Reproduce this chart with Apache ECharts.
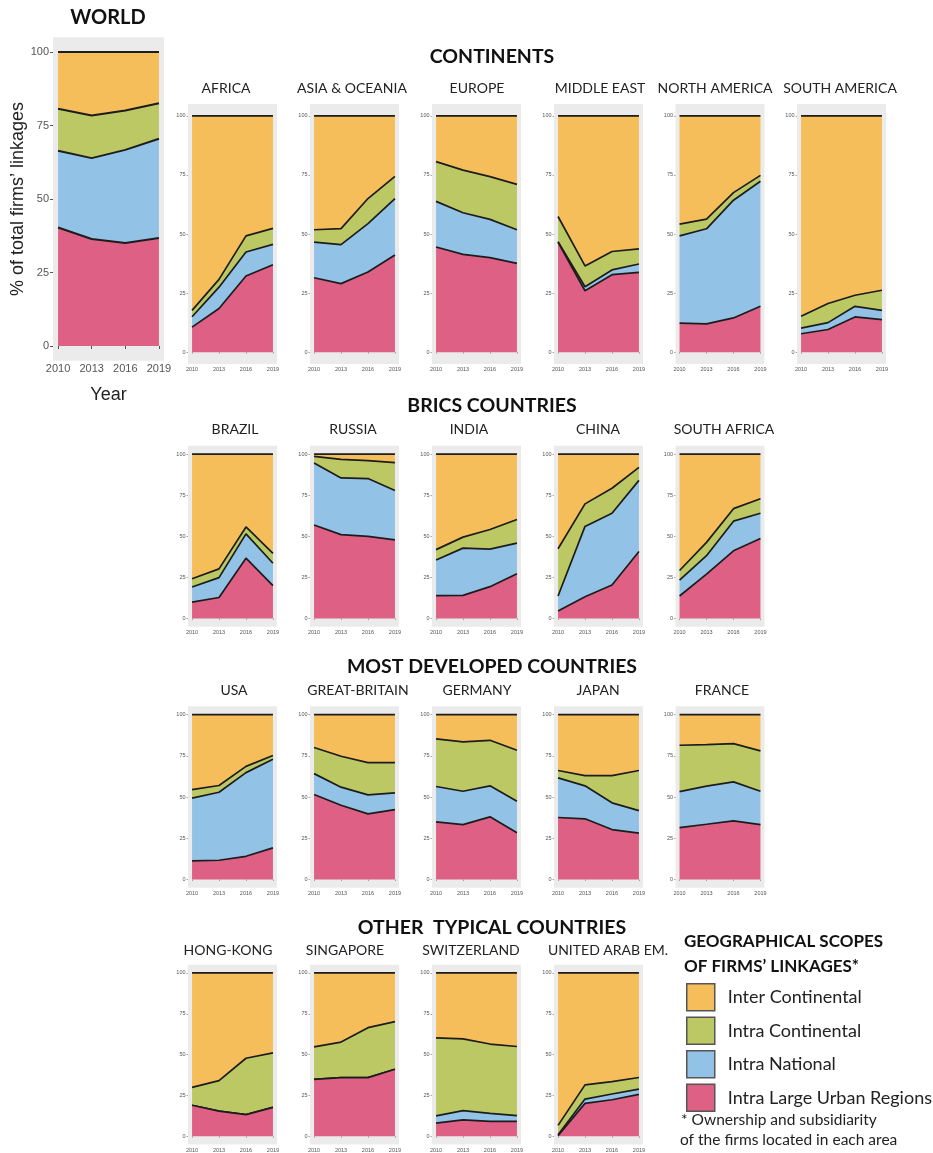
<!DOCTYPE html>
<html>
<head>
<meta charset="utf-8">
<script src="https://cdn.jsdelivr.net/npm/echarts@6/dist/echarts.min.js"></script>
<style>
  html, body { margin: 0; padding: 0; background: #ffffff; }
  #chart { width: 933px; height: 1153px; }
</style>
</head>
<body>
<div id="chart"></div>
<script>
// ---- Data: share (%) of firms' linkages by geographical scope ----
const years = [2010, 2013, 2016, 2019];

const regions = [
  'WORLD',
  'AFRICA', 'ASIA & OCEANIA', 'EUROPE', 'MIDDLE EAST', 'NORTH AMERICA', 'SOUTH AMERICA',
  'BRAZIL', 'RUSSIA', 'INDIA', 'CHINA', 'SOUTH AFRICA',
  'USA', 'GREAT-BRITAIN', 'GERMANY', 'JAPAN', 'FRANCE',
  'HONG-KONG', 'SINGAPORE', 'SWITZERLAND', 'UNITED ARAB EM.'
];

const scopeNames = ['Intra Large Urban Regions', 'Intra National', 'Intra Continental', 'Inter Continental'];

// one row per region, one value per year
const intraUrban = [
  [40.3, 36.4, 35.0, 36.7],
  [10.6, 18.5, 32.2, 37.0],
  [31.5, 29.0, 33.9, 41.1],
  [44.5, 41.4, 40.0, 37.6],
  [46.5, 26.0, 32.8, 33.8],
  [12.3, 12.0, 14.5, 19.4],
  [7.8, 9.6, 14.9, 13.8],
  [10.0, 12.8, 36.7, 20.0],
  [56.9, 51.0, 50.0, 47.8],
  [14.0, 14.1, 19.4, 27.3],
  [4.6, 13.3, 20.4, 40.8],
  [13.7, 27.0, 41.2, 48.7],
  [11.3, 11.7, 14.1, 19.2],
  [51.5, 45.0, 39.8, 42.4],
  [34.9, 33.3, 38.0, 28.3],
  [37.6, 36.8, 30.3, 28.1],
  [31.5, 33.5, 35.6, 33.3],
  [19.0, 15.4, 13.3, 17.7],
  [34.9, 35.9, 35.9, 41.1],
  [8.1, 10.1, 9.1, 9.1],
  [0.4, 20.2, 22.4, 25.7]
];

const intraNational = [
  [26.1, 27.5, 31.7, 33.8],
  [4.4, 9.0, 10.2, 8.6],
  [15.1, 16.5, 20.5, 23.9],
  [19.3, 17.6, 16.2, 14.2],
  [0.3, 1.7, 2.0, 3.5],
  [36.9, 40.2, 49.8, 52.9],
  [2.4, 2.9, 4.5, 3.9],
  [9.2, 12.1, 14.8, 13.6],
  [37.7, 34.5, 35.1, 30.0],
  [21.6, 28.7, 22.8, 18.6],
  [9.1, 42.7, 43.6, 43.2],
  [9.6, 11.2, 18.0, 15.3],
  [38.0, 41.2, 50.7, 53.7],
  [12.7, 11.0, 11.5, 10.1],
  [21.5, 20.2, 18.8, 19.2],
  [24.0, 20.0, 16.2, 13.7],
  [21.8, 23.1, 23.6, 20.2],
  [0, 0, 0, 0],
  [0, 0, 0, 0],
  [4.4, 5.6, 5.0, 3.6],
  [0.6, 2.6, 3.5, 3.2]
];

const intraContinental = [
  [14.3, 14.5, 13.4, 12.1],
  [2.7, 3.3, 6.8, 6.8],
  [5.2, 6.8, 10.6, 9.4],
  [16.8, 18.0, 18.1, 19.2],
  [10.6, 8.8, 7.8, 6.4],
  [5.0, 4.1, 3.2, 2.5],
  [5.0, 8.1, 4.7, 8.5],
  [5.0, 5.3, 4.2, 6.0],
  [4.0, 11.3, 10.9, 17.0],
  [6.3, 6.7, 11.9, 14.3],
  [28.7, 13.7, 15.2, 7.9],
  [5.9, 8.1, 7.6, 8.8],
  [5.2, 4.1, 3.8, 2.3],
  [15.8, 18.7, 19.6, 18.4],
  [28.9, 29.9, 27.6, 30.9],
  [4.5, 6.2, 16.5, 24.3],
  [28.1, 25.2, 23.2, 24.5],
  [11.0, 18.7, 34.5, 33.4],
  [19.9, 21.8, 30.6, 29.1],
  [47.8, 44.0, 42.4, 42.3],
  [5.7, 8.7, 7.6, 7.1]
];

const interContinental = [
  [19.3, 21.6, 19.9, 17.4],
  [82.3, 69.2, 50.8, 47.6],
  [48.2, 47.7, 35.0, 25.6],
  [19.4, 23.0, 25.7, 29.0],
  [42.6, 63.5, 57.4, 56.3],
  [45.8, 43.7, 32.5, 25.2],
  [84.8, 79.4, 75.9, 73.8],
  [75.8, 69.8, 44.3, 60.4],
  [1.4, 3.2, 4.0, 5.2],
  [58.1, 50.5, 45.9, 39.8],
  [57.6, 30.3, 20.8, 8.1],
  [70.8, 53.7, 33.2, 27.2],
  [45.5, 43.0, 31.4, 24.8],
  [20.0, 25.3, 29.1, 29.1],
  [14.7, 16.6, 15.6, 21.6],
  [33.9, 37.0, 37.0, 33.9],
  [18.6, 18.2, 17.6, 22.0],
  [70.0, 65.9, 52.2, 48.9],
  [45.2, 42.3, 33.5, 29.8],
  [39.7, 40.3, 43.5, 45.0],
  [93.3, 68.5, 66.5, 64.0]
];

const yTicks = [0, 25, 50, 75, 100];

// ---- Layout ----
const scopeData = [intraUrban, intraNational, intraContinental, interContinental];
const scopeColors = ['#DE6185', '#92C2E6', '#BBC864', '#F6BE5A'];

const colLeft = [188, 310, 432, 554, 675.5, 797];
const rowBand = {
  continents: { top: 104, height: 260, titleY: 88 },
  brics:      { top: 445.8, height: 181, titleY: 429 },
  developed:  { top: 706.3, height: 181.5, titleY: 690 },
  other:      { top: 964.8, height: 181, titleY: 950 }
};
const titleX = [
  null,
  226, 352, 477, 600, 715, 840,
  235, 353, 469, 598, 724,
  234, 358, 477, 598, 722,
  228, 345, 471, 608
];
const panelRow = [
  null,
  'continents', 'continents', 'continents', 'continents', 'continents', 'continents',
  'brics', 'brics', 'brics', 'brics', 'brics',
  'developed', 'developed', 'developed', 'developed', 'developed',
  'other', 'other', 'other', 'other'
];
const panelCol = [null, 0, 1, 2, 3, 4, 5, 0, 1, 2, 3, 4, 0, 1, 2, 3, 4, 0, 1, 2, 3];

const panels = regions.map((name, i) => {
  if (i === 0) return { left: 53, top: 37.3, width: 111, height: 323.4, big: true };
  const band = rowBand[panelRow[i]];
  return { left: colLeft[panelCol[i]], top: band.top, width: 89, height: band.height, big: false };
});

const grids = [], xAxes = [], yAxes = [], series = [];
const tickFont = 'Liberation Sans';

panels.forEach((p, i) => {
  const fs = p.big ? 11 : 5.5;
  grids.push({
    left: p.left, top: p.top, width: p.width, height: p.height,
    show: true, backgroundColor: '#EBEBEB', borderWidth: 0
  });
  xAxes.push({
    gridIndex: i, type: 'value', min: 2009.55, max: 2019.45,
    axisLine: { show: false },
    axisTick: { show: true, customValues: years, length: p.big ? 3 : 1.5,
      lineStyle: { color: '#555', width: p.big ? 1 : 0.5 } },
    axisLabel: { customValues: years, fontSize: fs, color: '#555', margin: p.big ? 3 : 2.5,
      fontFamily: tickFont, formatter: v => String(v) },
    splitLine: { show: false },
    name: p.big ? 'Year' : '',
    nameLocation: 'middle', nameGap: 25,
    nameTextStyle: { fontSize: 18, color: '#222', fontFamily: tickFont }
  });
  yAxes.push({
    gridIndex: i, type: 'value', min: -5, max: 105,
    axisLine: { show: false },
    axisTick: { show: true, customValues: yTicks, length: p.big ? 3 : 1.5,
      lineStyle: { color: '#555', width: p.big ? 1 : 0.5 } },
    axisLabel: { customValues: yTicks, fontSize: fs, color: '#555', margin: p.big ? 4 : 2.5,
      fontFamily: tickFont, formatter: v => String(v) },
    splitLine: { show: false },
    name: p.big ? '% of total firms\u2019 linkages' : '',
    nameLocation: 'middle', nameGap: 25,
    nameTextStyle: { fontSize: 18, color: '#222', fontFamily: tickFont }
  });
  for (let s = 0; s < 4; s++) {
    series.push({
      type: 'line',
      name: scopeNames[s],
      xAxisIndex: i, yAxisIndex: i,
      stack: 'region' + i,
      // share first, year second: the first numeric dimension is the one stacked
      data: years.map((y, k) => [scopeData[s][i][k], y]),
      encode: { x: 1, y: 0 },
      symbol: 'none', showSymbol: false,
      itemStyle: { color: scopeColors[s] },
      areaStyle: { color: scopeColors[s], opacity: 1 },
      lineStyle: { color: '#1c1c1c', width: p.big ? 2 : 1.7 },
      z: 10 - s,
      silent: true,
      emphasis: { disabled: true }
    });
  }
});

// ---- Headings and notes ----
const graphics = [];
function addText(text, x, y, font, align, fill) {
  graphics.push({
    type: 'text', x: x, y: y, silent: true,
    style: { text: text, font: font, textAlign: align || 'center', textVerticalAlign: 'middle', fill: fill || '#111' }
  });
}
addText('WORLD', 108, 18, 'bold 20px Lato');
addText('CONTINENTS', 492, 57, 'bold 19.5px Lato');
addText('BRICS COUNTRIES', 492, 406, 'bold 19.5px Lato');
addText('MOST DEVELOPED COUNTRIES', 492, 667, 'bold 19.5px Lato');
addText('OTHER  TYPICAL COUNTRIES', 492, 928, 'bold 19.5px Lato');
regions.forEach((name, i) => {
  if (i === 0) return;
  addText(name, titleX[i], rowBand[panelRow[i]].titleY, '14px Lato', 'center', '#222');
});
addText('GEOGRAPHICAL SCOPES', 684, 942, 'bold 17px Lato', 'left');
addText('OF FIRMS\u2019 LINKAGES*', 684, 967, 'bold 17px Lato', 'left');
addText('* Ownership and subsidiarity', 681, 1120, '15.5px Lato', 'left', '#222');
addText('of the firms located in each area', 680, 1140, '15.5px Lato', 'left', '#222');

const chart = echarts.init(document.getElementById('chart'), null, { renderer: 'canvas' });
chart.setOption({
  animation: false,
  backgroundColor: '#ffffff',
  grid: grids,
  xAxis: xAxes,
  yAxis: yAxes,
  series: series,
  legend: {
    data: ['Inter Continental', 'Intra Continental', 'Intra National', 'Intra Large Urban Regions'],
    orient: 'vertical', left: 686, top: 983, padding: 0,
    itemWidth: 28, itemHeight: 27, itemGap: 5,
    icon: 'rect',
    itemStyle: { borderColor: '#555', borderWidth: 1.5 },
    lineStyle: { width: 0 },
    textStyle: { fontSize: 18, fontFamily: 'Lato', color: '#222', padding: [0, 0, 0, 8] },
    selectedMode: false
  },
  graphic: graphics
});
</script>
</body>
</html>
